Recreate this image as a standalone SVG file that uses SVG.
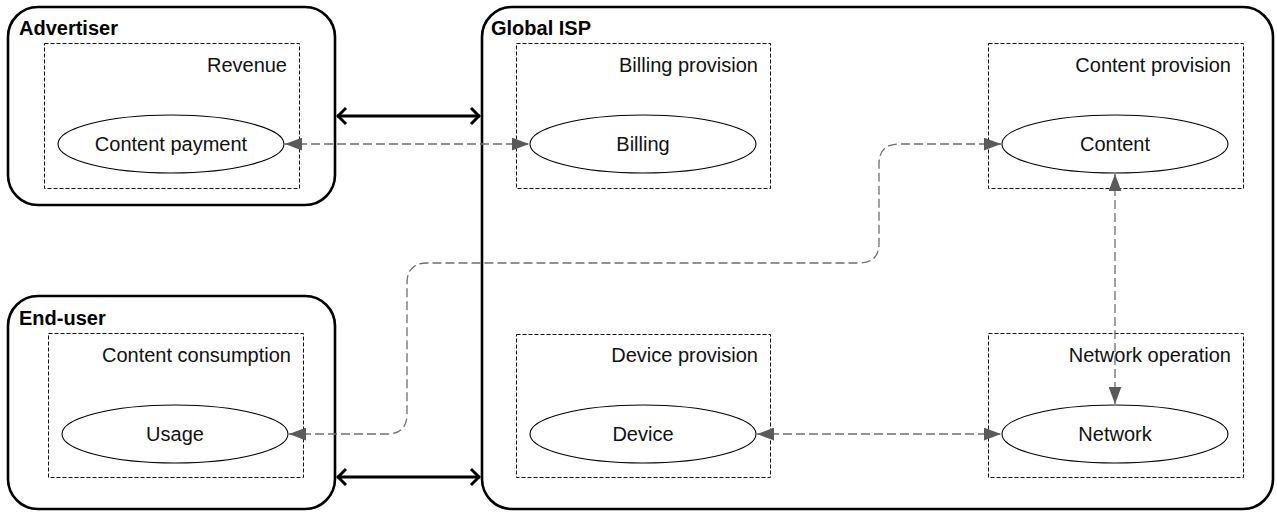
<svg xmlns="http://www.w3.org/2000/svg" width="1277" height="512" viewBox="0 0 1277 512">
<style>
.actor{fill:#fff;stroke:#000;stroke-width:2.6}
.grp{fill:none;stroke:#111;stroke-width:1;stroke-dasharray:4 2}
.ell{fill:#fff;stroke:#000;stroke-width:1.1}
.t{font-family:"Liberation Sans",Arial,sans-serif;font-size:20px;fill:#111}
.tb{font-family:"Liberation Sans",Arial,sans-serif;font-size:20px;font-weight:bold;fill:#000}
.r{text-anchor:end}
.c{text-anchor:middle}
.dc{fill:none;stroke:#6e6e6e;stroke-width:1.3;stroke-dasharray:9 4}
.thick{fill:none;stroke:#000;stroke-width:3}
</style>
<defs>
<marker id="tri" viewBox="0 0 16 12" refX="16" refY="6" markerWidth="17" markerHeight="13" markerUnits="userSpaceOnUse" orient="auto-start-reverse">
<path d="M0,0 L16,6 L0,12 z" fill="#5a5a5a"/>
</marker>
<marker id="chev" viewBox="0 0 12 20" refX="11" refY="10" markerWidth="12" markerHeight="20" markerUnits="userSpaceOnUse" orient="auto-start-reverse">
<path d="M2,2 L10,10 L2,18" fill="none" stroke="#000" stroke-width="3"/>
</marker>
</defs>
<g id="advertiser">
<rect class="actor" x="8" y="7" width="327" height="198" rx="30"/>
<text class="tb" x="19" y="35">Advertiser</text>
</g>
<g id="end-user">
<rect class="actor" x="8" y="296" width="327" height="213" rx="30"/>
<text class="tb" x="19" y="325">End-user</text>
</g>
<g id="global-isp">
<rect class="actor" x="482" y="7" width="791" height="502" rx="30"/>
<text class="tb" x="491" y="35">Global ISP</text>
</g>
<g id="revenue">
<rect class="grp" x="44.5" y="43.5" width="255" height="145"/>
<text class="t r" x="287" y="72">Revenue</text>
</g>
<g id="content-consumption">
<rect class="grp" x="48.5" y="333.5" width="255" height="144"/>
<text class="t r" x="291" y="362">Content consumption</text>
</g>
<g id="billing-provision">
<rect class="grp" x="516.5" y="43.5" width="254" height="145"/>
<text class="t r" x="758" y="72">Billing provision</text>
</g>
<g id="content-provision">
<rect class="grp" x="988.5" y="43.5" width="255" height="145"/>
<text class="t r" x="1231" y="72">Content provision</text>
</g>
<g id="device-provision">
<rect class="grp" x="516.5" y="334.5" width="254" height="143"/>
<text class="t r" x="758" y="362">Device provision</text>
</g>
<g id="network-operation">
<rect class="grp" x="988.5" y="333.5" width="255" height="144"/>
<text class="t r" x="1231" y="362">Network operation</text>
</g>
<g id="content-payment">
<ellipse class="ell" cx="171" cy="144" rx="113" ry="29"/>
<text class="t c" x="171" y="151">Content payment</text>
</g>
<g id="billing">
<ellipse class="ell" cx="643" cy="144" rx="113" ry="29"/>
<text class="t c" x="643" y="151">Billing</text>
</g>
<g id="content">
<ellipse class="ell" cx="1115" cy="144" rx="113" ry="29"/>
<text class="t c" x="1115" y="151">Content</text>
</g>
<g id="usage">
<ellipse class="ell" cx="175" cy="434" rx="113" ry="29"/>
<text class="t c" x="175" y="441">Usage</text>
</g>
<g id="device">
<ellipse class="ell" cx="643" cy="434" rx="113" ry="29"/>
<text class="t c" x="643" y="441">Device</text>
</g>
<g id="network">
<ellipse class="ell" cx="1115" cy="434" rx="113" ry="29"/>
<text class="t c" x="1115" y="441">Network</text>
</g>
<g id="connectors">
<line class="thick" x1="337" y1="116" x2="480" y2="116" marker-start="url(#chev)" marker-end="url(#chev)"/>
<line class="thick" x1="337" y1="477" x2="480" y2="477" marker-start="url(#chev)" marker-end="url(#chev)"/>
<line class="dc" x1="285" y1="144" x2="529" y2="144" marker-start="url(#tri)" marker-end="url(#tri)"/>
<path class="dc" d="M289,434 H387 Q407,434 407,414 V283 Q407,263 427,263 H859 Q879,263 879,243 V164 Q879,144 899,144 H1001" marker-start="url(#tri)" marker-end="url(#tri)"/>
<line class="dc" x1="757" y1="434" x2="1001" y2="434" marker-start="url(#tri)" marker-end="url(#tri)"/>
<line class="dc" x1="1115" y1="174" x2="1115" y2="404" marker-start="url(#tri)" marker-end="url(#tri)"/>
</g>
</svg>
